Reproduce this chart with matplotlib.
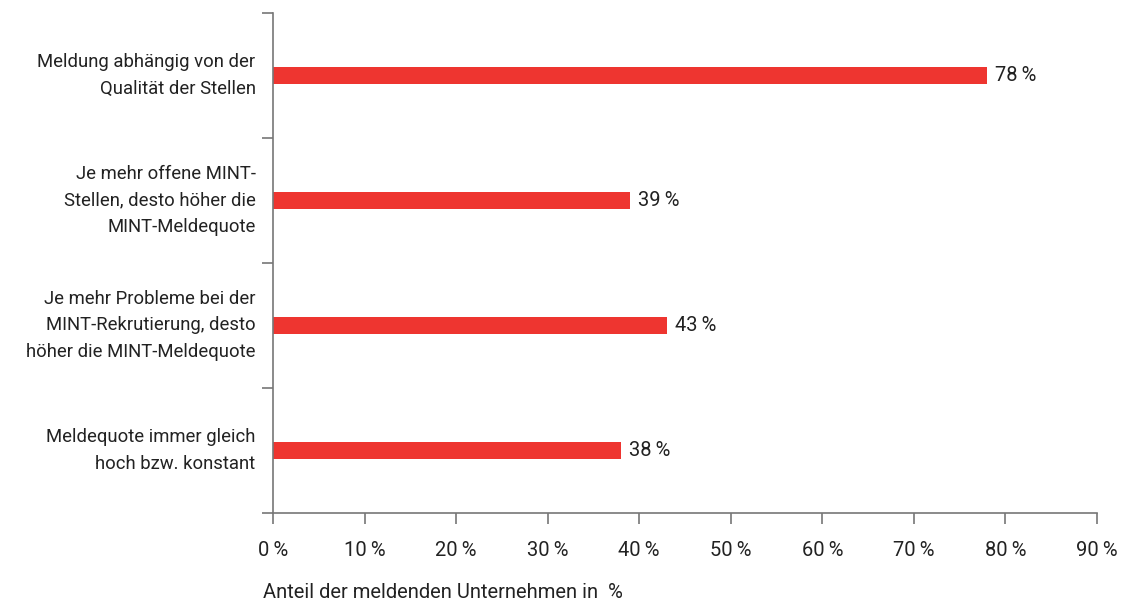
import matplotlib.pyplot as plt
import numpy as np

plt.rcParams['font.family'] = ['Liberation Sans Narrow', 'Roboto', 'DejaVu Sans']

kategorien = [
    'Meldung abhängig von der\nQualität der Stellen',
    'Je mehr offene MINT-\nStellen, desto höher die\nMINT-Meldequote',
    'Je mehr Probleme bei der\nMINT-Rekrutierung, desto\nhöher die MINT-Meldequote',
    'Meldequote immer gleich\nhoch bzw. konstant',
]
anteile = [78, 39, 43, 38]
xticks = np.arange(0, 100, 10)

rot = '#EE3530'
grau = '#777777'
text = '#222222'

fig = plt.figure(figsize=(11.22, 6), dpi=100)
ax = fig.add_axes([273 / 1122, 87 / 600, 824 / 1122, 500 / 600])

y = np.arange(len(kategorien))
ax.barh(y, anteile, height=0.13, color=rot)
for yi, v in zip(y, anteile):
    ax.text(v + 0.9, yi, f'{v}\u2009%', va='center', ha='left', fontsize=14.5, color=text)

ax.set_ylim(len(kategorien) - 0.5, -0.5)
ax.set_xlim(0, 90)

# Kategorien als Text links, Striche an den Grenzen
ax.set_yticks(np.arange(-0.5, len(kategorien), 1))
ax.set_yticklabels([])
for yi, lab in zip(y, kategorien):
    ax.text(-1.9, yi, lab, ha='right', va='center', fontsize=13.3, color=text,
            linespacing=1.6)

ax.set_xticks(xticks)
ax.set_xticklabels([f'{t}\u2009%' for t in xticks], fontsize=14.5, color=text)
ax.tick_params(axis='both', direction='out', length=8, color=grau, width=1.2, pad=12)

for s in ['top', 'right']:
    ax.spines[s].set_visible(False)
for s in ['left', 'bottom']:
    ax.spines[s].set_color(grau)
    ax.spines[s].set_linewidth(1.2)

fig.text(263 / 1122, 1 - 592 / 600, 'Anteil der meldenden Unternehmen in  %',
         ha='left', va='center', fontsize=14.5, color=text)

fig.savefig('out.png', dpi=100)
